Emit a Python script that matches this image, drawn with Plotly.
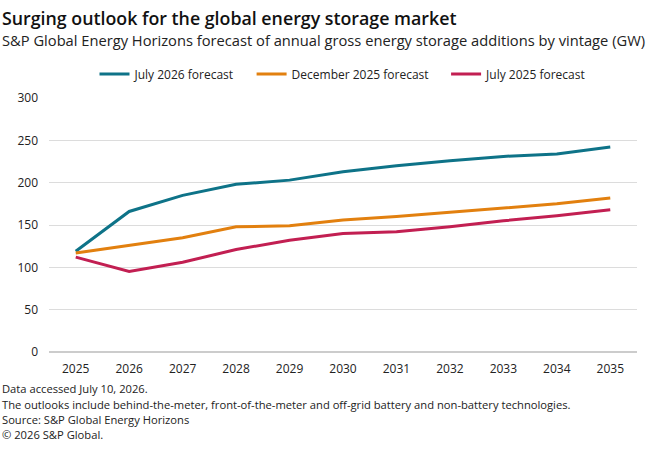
import plotly.graph_objects as go

years = [2025, 2026, 2027, 2028, 2029, 2030, 2031, 2032, 2033, 2034, 2035]
july_2026 = [119, 166, 185, 198, 203, 213, 220, 226, 231, 234, 242]
dec_2025 = [117, 126, 135, 148, 149, 156, 160, 165, 170, 175, 182]
july_2025 = [112, 95, 106, 121, 132, 140, 142, 148, 155, 161, 168]

series = [
    ("July 2026 forecast", july_2026, "#0e7388"),
    ("December 2025 forecast", dec_2025, "#e2800f"),
    ("July 2025 forecast", july_2025, "#c21f52"),
]

FONT = "Open Sans"
PAD = "&nbsp;" * 4
fig = go.Figure()
for i, (name, vals, color) in enumerate(series):
    label = name + (PAD if i < len(series) - 1 else "")
    fig.add_trace(go.Scatter(x=years, y=vals, name=label, mode="lines",
                             line=dict(color=color, width=3)))

fig.update_layout(
    width=660, height=452,
    margin=dict(l=49, r=23, t=98, b=100),
    paper_bgcolor="white", plot_bgcolor="white",
    font=dict(family=FONT, size=12, color="#222"),
    showlegend=True,
    legend=dict(orientation="h", x=0.5, xanchor="center", y=1 + (98 - 74) / 254,
                yanchor="middle", font=dict(size=12, color="#222"),
                itemwidth=30, tracegroupgap=0),
    xaxis=dict(range=[2024.5, 2035.5], tickmode="array", tickvals=years,
               ticktext=[str(y) for y in years], showgrid=False, zeroline=False,
               showline=False, ticks="", ticklabelstandoff=8,
               tickfont=dict(size=12, color="#222")),
    yaxis=dict(range=[0, 300], dtick=50, showgrid=True, gridcolor="#dcdcdc",
               gridwidth=1, zeroline=True, zerolinecolor="#cccccc", zerolinewidth=2,
               showline=False, ticks="", ticklabelstandoff=10,
               tickfont=dict(size=12, color="#222")),
)

fig.add_annotation(text="Surging outlook for the global energy storage market",
                   xref="paper", yref="paper", x=-49/588, y=1 + (98 - 18) / 254,
                   xanchor="left", yanchor="middle", showarrow=False,
                   font=dict(size=17.8, color="#111", family=FONT, weight=600))
fig.add_annotation(text="S&P Global Energy Horizons forecast of annual gross energy storage additions by vintage (GW)",
                   xref="paper", yref="paper", x=-49/588, y=1 + (98 - 40) / 254,
                   xanchor="left", yanchor="middle", showarrow=False,
                   font=dict(size=14.7, color="#222", family=FONT))

notes = [
    "Data accessed July 10, 2026.",
    "The outlooks include behind-the-meter, front-of-the-meter and off-grid battery and non-battery technologies.",
    "Source: S&P Global Energy Horizons",
    "© 2026 S&P Global.",
]
for i, t in enumerate(notes):
    ypix = 388.5 + i * 15.5
    fig.add_annotation(text=t, xref="paper", yref="paper", x=-49/588,
                       y=(352 - ypix) / 254, xanchor="left", yanchor="middle",
                       showarrow=False, font=dict(size=11.2, color="#222", family=FONT))

fig.write_html("out.html")
